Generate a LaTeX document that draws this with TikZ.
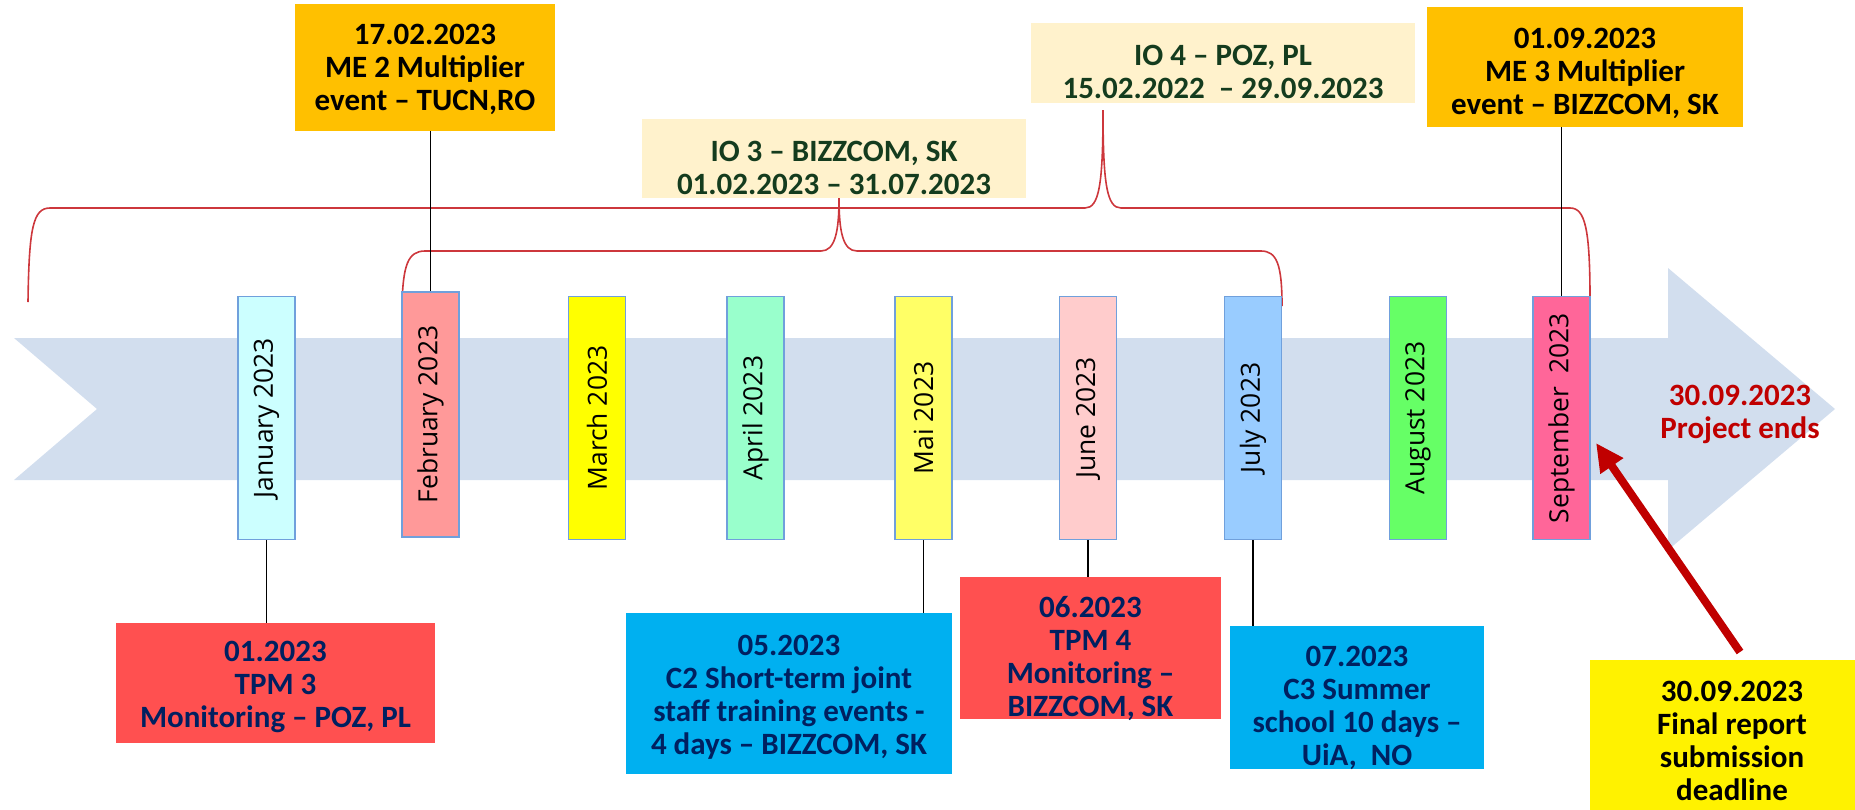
\documentclass[tikz,border=0pt]{standalone}
\usepackage{fontspec}
\setmainfont{Carlito}
\newfontfamily\monthfont{Open Sans}
\usetikzlibrary{arrows.meta}
\definecolor{band}{RGB}{210,222,238}
\definecolor{mborder}{RGB}{112,160,220}
\definecolor{bracec}{RGB}{205,55,60}
\definecolor{navy}{RGB}{0,32,96}
\definecolor{dgreen}{RGB}{20,60,30}
\definecolor{orangeb}{RGB}{255,192,0}
\definecolor{creamb}{RGB}{255,242,204}
\definecolor{redb}{RGB}{255,80,80}
\definecolor{blueb}{RGB}{0,176,240}
\definecolor{darkred}{RGB}{192,0,0}
\definecolor{cJan}{RGB}{204,255,255}
\definecolor{cFeb}{RGB}{255,153,153}
\definecolor{cMar}{RGB}{255,255,0}
\definecolor{cApr}{RGB}{153,255,204}
\definecolor{cMai}{RGB}{255,255,102}
\definecolor{cJun}{RGB}{255,204,204}
\definecolor{cJul}{RGB}{153,204,255}
\definecolor{cAug}{RGB}{102,255,102}
\definecolor{cSep}{RGB}{255,102,153}
\begin{document}
\begin{tikzpicture}[x=0.5pt,y=-0.5pt,
  mbox/.style={draw=mborder, line width=0.75pt, minimum width=28.5pt, minimum height=121.5pt, inner sep=0pt},
  mlabel/.style={rotate=90, font=\monthfont\fontsize{13.2}{15}\selectfont, inner sep=0pt},
  evbox/.style={inner sep=0pt, draw=none},
  evtext/.style={align=center, font=\bfseries\fontsize{15.5}{16.5}\selectfont, inner sep=0pt},
  link/.style={draw=black, line width=0.6pt},
  bracel/.style={draw=bracec, line width=0.8pt},
  bigarrow/.style={draw=darkred, line width=4pt, -{Triangle[length=14pt,width=13pt]}}]
\useasboundingbox (0,0) rectangle (1855,809);

% timeline band arrow
\fill[band] (14,338) -- (1668,338) -- (1668,268) -- (1835,409) -- (1668,550) -- (1668,480) -- (14,480) -- (97,409) -- cycle;

% braces
\draw[bracel] (28,302) .. controls (29,228) and (33,208) .. (50,208) -- (1085,208)
  .. controls (1099,208) and (1103,185) .. (1103,110)
  .. controls (1103,185) and (1107,208) .. (1121,208) -- (1570,208)
  .. controls (1585,208) and (1590,228) .. (1590,300);
\draw[bracel] (402,305) .. controls (403,265) and (408,251) .. (425,251) -- (821,251)
  .. controls (835,251) and (839,232) .. (839,198)
  .. controls (839,232) and (843,251) .. (857,251) -- (1261,251)
  .. controls (1277,251) and (1282,265) .. (1282,306);

% month boxes
\node[mbox, fill=cJan] (jan) at (266.5,418) {};
\node[mbox, fill=cFeb, minimum height=122.5pt] (feb) at (430.5,414.5) {};
\node[mbox, fill=cMar] (mar) at (597,418) {};
\node[mbox, fill=cApr] (apr) at (755.5,418) {};
\node[mbox, fill=cMai] (mai) at (923.5,418) {};
\node[mbox, fill=cJun] (jun) at (1088,418) {};
\node[mbox, fill=cJul] (jul) at (1253,418) {};
\node[mbox, fill=cAug] (aug) at (1418,418) {};
\node[mbox, fill=cSep] (sep) at (1561.5,418) {};
\node[mlabel] (janl) at (jan) {January 2023};
\node[mlabel] (febl) at (feb) {February 2023};
\node[mlabel] (marl) at (mar) {March 2023};
\node[mlabel] (aprl) at (apr) {April 2023};
\node[mlabel] (mail) at (mai) {Mai 2023};
\node[mlabel] (junl) at (jun) {June 2023};
\node[mlabel] (jull) at (jul) {July 2023};
\node[mlabel] (augl) at (aug) {August 2023};
\node[mlabel] (sepl) at (sep) {September\ \ 2023};

% event boxes (top)
\node[evbox, fill=orangeb, minimum width=130pt, minimum height=63.5pt] (me2) at (425,67.5) {};
\node[evtext] (me2t) at (425,69) {17.02.2023\\ME 2 Multiplier\\event – TUCN,RO};
\node[evbox, fill=creamb, minimum width=192pt, minimum height=39.5pt] (io3) at (834,158.5) {};
\node[evtext, text=dgreen] (io3t) at (834,168) {IO 3 – BIZZCOM, SK\\01.02.2023 – 31.07.2023};
\node[evbox, fill=creamb, minimum width=192pt, minimum height=40pt] (io4) at (1223,63) {};
\node[evtext, text=dgreen] (io4t) at (1223,72) {IO 4 – POZ, PL\\15.02.2022\ \ – 29.09.2023};
\node[evbox, fill=orangeb, minimum width=158pt, minimum height=60pt] (me3) at (1585,67) {};
\node[evtext] (me3t) at (1585,73) {01.09.2023\\ME 3 Multiplier\\event – BIZZCOM, SK};

% event boxes (bottom)
\node[evbox, fill=redb, minimum width=159.5pt, minimum height=60pt] (b1) at (275.5,683) {};
\node[evtext, text=navy] (b1t) at (275.5,687) {01.2023\\TPM 3\\Monitoring – POZ, PL};
\node[evbox, fill=blueb, minimum width=163pt, minimum height=80.5pt] (b5) at (789,693.5) {};
\node[evtext, text=navy] (b5t) at (789,697) {05.2023\\C2 Short-term joint\\staff training events -\\4 days – BIZZCOM, SK};
\node[evbox, fill=redb, minimum width=130.5pt, minimum height=71pt] (b6) at (1090.5,648) {};
\node[evtext, text=navy] (b6t) at (1090.5,659) {06.2023\\TPM 4\\Monitoring –\\BIZZCOM, SK};
\node[evbox, fill=blueb, minimum width=127pt, minimum height=71.5pt] (b7) at (1357,697.5) {};
\node[evtext, text=navy] (b7t) at (1357,708) {07.2023\\C3 Summer\\school 10 days –\\UiA,\ \ NO};
\node[evbox, fill=yellow, minimum width=135pt, minimum height=76pt] (fin) at (1725,736) {};
\node[evtext] (fint) at (1732,741) {30.09.2023\\Final report\\submission\\deadline};
\node[evtext, text=darkred] (endt) at (1740,414) {30.09.2023\\Project ends};

% connectors
\draw[link] (me2.south -| feb.north) -- (feb.north);
\draw[link] (me3.south -| sep.north) -- (sep.north);
\draw[link] (jan.south) -- (jan.south |- b1.north);
\draw[link] (mai.south) -- (mai.south |- b5.north);
\draw[link] (jun.south) -- (jun.south |- b6.north);
\draw[link] (jul.south) -- (jul.south |- b7.north);

% deadline arrow
\coordinate (arrS) at (1740,652);
\coordinate (arrE) at (1596,443);
\draw[bigarrow] (arrS) -- (arrE);
\end{tikzpicture}
\end{document}
